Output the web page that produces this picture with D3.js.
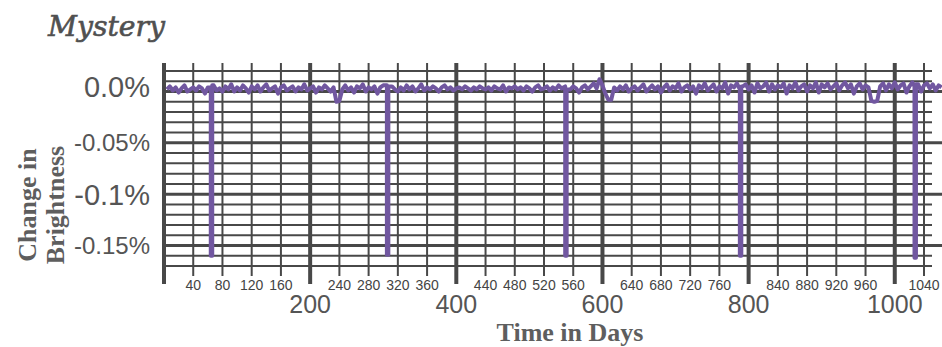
<!DOCTYPE html>
<html><head><meta charset="utf-8">
<script src="https://cdn.jsdelivr.net/npm/d3@7"></script>
<style>html,body{margin:0;padding:0;background:#fff;} svg{display:block;}</style>
</head><body><svg id="c" width="942" height="347"></svg>
<script>
// ---------------- data ----------------
const chartTitle = "Mystery";
const xTitle = "Time in Days";
const yTitleLines = ["Change in", "Brightness"];

const minorXTicks = [40,80,120,160,240,280,320,360,440,480,520,560,640,680,720,760,840,880,920,960,1040];
const majorXTicks = [200,400,600,800,1000];
const gridYTicks = [0.02,0.01,0,-0.01,-0.02,-0.03,-0.04,-0.05,-0.06,-0.07,-0.08,-0.09,-0.10,-0.11,-0.12,-0.13,-0.14,-0.15,-0.16,-0.17];
const majorYTicks = [0,-0.05,-0.10,-0.15];
const yTickLabels = ["0.0%","-0.05%","-0.1%","-0.15%"];
const yTickBig = [true,false,true,false];

// brightness samples, every 4 days starting at day 4, in thousandths of a percent
const sampleStartDay = 4, sampleStepDays = 4;
const brightnessThousandths = [
 2,5,1,4,-1,3,6,0,2,4,
 1,5,3,-2,4,2,6,1,3,0,
 5,2,7,0,4,1,6,3,-1,5,
 2,6,0,4,7,1,3,5,-2,4,
 6,1,3,5,0,4,2,7,1,3,
 5,-1,4,2,6,3,0,4,-10,-9,
 2,6,1,4,-1,5,3,7,0,4,
 2,5,-2,4,6,1,3,5,2,0,
 4,1,6,2,5,0,3,7,1,4,
 2,5,3,0,4,6,2,4,1,3,
 4,2,5,3,1,4,2,5,3,2,
 4,1,5,3,2,6,0,4,3,5,
 2,4,1,5,3,0,4,6,2,3,
 5,1,4,2,6,3,0,4,2,5,
 3,-1,4,6,2,5,8,3,12,6,
 -2,-8,-8,4,1,5,2,6,0,3,
 5,1,4,7,0,3,6,2,5,-1,
 4,7,1,5,3,8,0,4,6,2,
 5,-2,6,3,8,1,4,7,0,5,
 3,9,-2,6,4,8,1,5,7,2,
 6,-1,8,3,5,9,0,7,2,6,
 4,8,-2,6,3,9,1,5,7,0,
 6,3,9,-1,7,4,8,2,5,8,
 1,6,9,3,7,-2,5,8,2,6,
 4,-9,-10,-9,5,8,1,7,3,9,
 2,6,8,-1,5,9,3,7,0,6,
 8,3,7,1,6,4
];
// transit dips
const transitDays = [65, 306, 550, 789, 1028];
const transitDepth = [-0.160, -0.159, -0.160, -0.160, -0.162];

// ---------------- layout ----------------
const svg = d3.select("#c");
const x = d3.scaleLinear().domain([0, 1040]).range([164, 924]);
const y = d3.scaleLinear().domain([0.02, -0.17]).range([71, 266]);
const gridRight = 932, thickRight = 942;
const vTop = y(0.02) - 8, minorBottom = 276, majorBottom = 284;
const gridColor = "#484848", textColor = "#555";
const sans = "'Liberation Sans', Arial, sans-serif";
const serif = "'Liberation Serif', 'Times New Roman', serif";
const isMajorY = d => majorYTicks.some(m => Math.abs(m - d) < 1e-9);

// horizontal grid
svg.append("g").selectAll("line").data(gridYTicks).join("line")
  .attr("x1", x(0)).attr("x2", d => isMajorY(d) ? thickRight : gridRight)
  .attr("y1", d => y(d)).attr("y2", d => y(d))
  .attr("stroke", gridColor)
  .attr("stroke-width", d => isMajorY(d) ? 3 : 2);

// vertical grid
const allX = minorXTicks.concat(majorXTicks);
svg.append("g").selectAll("line").data(allX).join("line")
  .attr("x1", d => x(d)).attr("x2", d => x(d))
  .attr("y1", vTop).attr("y2", d => majorXTicks.includes(d) ? majorBottom : minorBottom)
  .attr("stroke", gridColor)
  .attr("stroke-width", d => majorXTicks.includes(d) ? 4 : 2);
// left axis
svg.append("line").attr("x1", x(0)).attr("x2", x(0)).attr("y1", vTop).attr("y2", majorBottom)
  .attr("stroke", gridColor).attr("stroke-width", 4);

// data line
let pts = brightnessThousandths.map((v, i) => ({day: sampleStartDay + i * sampleStepDays, v: v / 1000}));
transitDays.forEach((d, k) => {
  const before = pts.filter(p => p.day <= d - 2.5).pop();
  const after = pts.find(p => p.day >= d + 2.5);
  pts = pts.filter(p => Math.abs(p.day - d) >= 2.5);
  pts.push({day: d - 1, v: before.v}, {day: d - 1, v: transitDepth[k]},
           {day: d + 1, v: transitDepth[k]}, {day: d + 1, v: after.v});
});
pts.sort((a, b) => a.day - b.day);
svg.append("path").datum(pts)
  .attr("d", d3.line().x(p => x(p.day)).y(p => y(p.v)))
  .attr("fill", "none").attr("stroke", "#7157a0").attr("stroke-width", 4)
  .attr("stroke-linejoin", "round");

// y tick labels
svg.append("g").selectAll("text").data(majorYTicks).join("text")
  .attr("x", 150)
  .attr("y", (d, i) => y(d) + (yTickBig[i] ? 29 : 24) * 0.36 - (i === 0 ? 5 : 0))
  .attr("text-anchor", "end")
  .attr("font-family", sans).attr("font-size", (d, i) => yTickBig[i] ? 29 : 24)
  .attr("fill", textColor)
  .text((d, i) => yTickLabels[i]);

// x tick labels
svg.append("g").selectAll("text").data(minorXTicks).join("text")
  .attr("x", d => x(d)).attr("y", 290).attr("text-anchor", "middle")
  .attr("font-family", sans).attr("font-size", 14).attr("fill", "#444")
  .text(d => d);
svg.append("g").selectAll("text").data(majorXTicks).join("text")
  .attr("x", d => x(d)).attr("y", 313).attr("text-anchor", "middle")
  .attr("font-family", sans).attr("font-size", 25).attr("fill", textColor)
  .text(d => d);

// titles
svg.append("text").attr("x", 48).attr("y", 36)
  .attr("font-family", "'DejaVu Serif', serif").attr("font-style", "italic")
  .attr("font-size", 27).attr("fill", "#505050")
  .attr("stroke", "#505050").attr("stroke-width", 0.6)
  .attr("textLength", 117).attr("lengthAdjust", "spacingAndGlyphs")
  .text(chartTitle);

svg.append("text").attr("x", 570).attr("y", 341).attr("text-anchor", "middle")
  .attr("font-family", serif).attr("font-weight", "bold").attr("font-size", 26)
  .attr("fill", "#5e5e5e").text(xTitle);

svg.append("g").selectAll("text").data(yTitleLines).join("text")
  .attr("transform", (d, i) => `translate(${36 + i * 28},205) rotate(-90)`)
  .attr("text-anchor", "middle")
  .attr("font-family", serif).attr("font-weight", "bold").attr("font-size", 26)
  .attr("fill", "#5e5e5e").text(d => d);
</script>
</body></html>
